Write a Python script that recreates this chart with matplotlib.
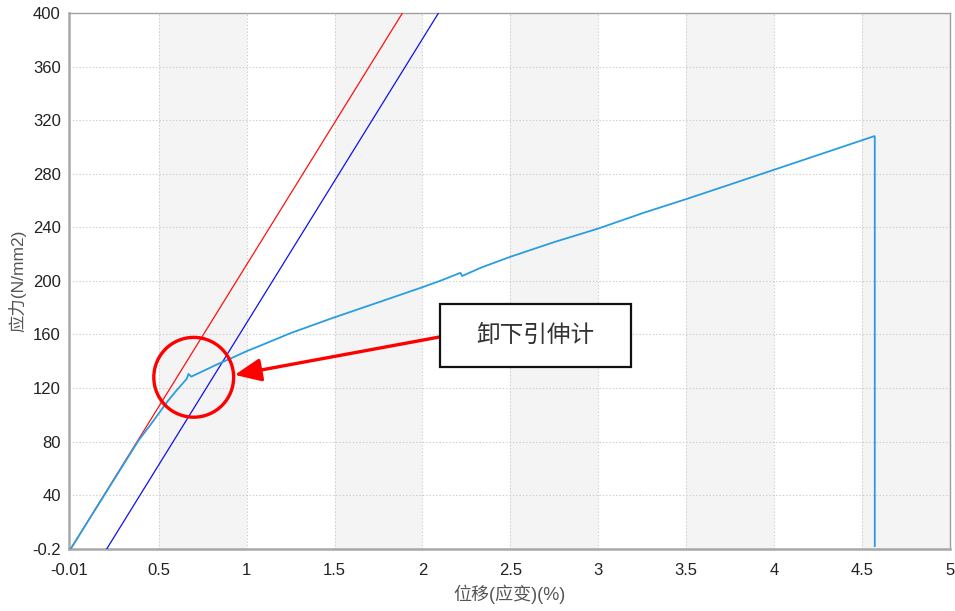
import numpy as np
import matplotlib
matplotlib.use('Agg')
import matplotlib.pyplot as plt
from matplotlib.patches import Ellipse


# Stress-strain test curve (strain %, stress N/mm2)
strain = [0.0, 0.1, 0.2, 0.3, 0.386, 0.45, 0.5, 0.55, 0.6, 0.64, 0.66, 0.669, 0.685,
          0.75, 0.83, 0.915, 1.0, 1.085, 1.25, 1.483, 1.75, 1.994, 2.1, 2.216, 2.225,
          2.335, 2.5, 2.75, 2.998, 3.25, 3.51, 3.75, 4.0, 4.25, 4.568, 4.572, 4.572]
stress = [0.0, 21, 42, 63, 81, 92, 101, 110, 118, 124, 127, 130.5, 128.5,
          132.5, 137.5, 142.4, 147.5, 152, 161, 172, 184, 195, 200, 206, 203.6,
          210, 218, 229, 239, 250.5, 261.5, 272, 283, 294, 308, 308, 2]

# Elastic line and 0.2% offset line
elastic_x = [0.0, 1.886]
elastic_y = [0.0, 400]
offset_x = [0.205, 2.091]
offset_y = [0.0, 400]

x_ticks = [-0.01, 0.5, 1, 1.5, 2, 2.5, 3, 3.5, 4, 4.5, 5]
x_labels = ['-0.01', '0.5', '1', '1.5', '2', '2.5', '3', '3.5', '4', '4.5', '5']
y_ticks = [-0.2, 40, 80, 120, 160, 200, 240, 280, 320, 360, 400]
y_labels = ['-0.2', '40', '80', '120', '160', '200', '240', '280', '320', '360', '400']
shade_bands = [(0.5, 1), (1.5, 2), (2.5, 3), (3.5, 4), (4.5, 5)]

note_text = '卸下引伸计'

fonts = ['Liberation Sans', 'Noto Sans CJK SC', 'DejaVu Sans']
plt.rcParams['font.family'] = fonts

fig = plt.figure(figsize=(9.55, 6.11), dpi=100)
ax = fig.add_axes([0.0723, 0.1015, 0.9225, 0.8772])

for lo, hi in shade_bands:
    ax.axvspan(lo, hi, color='#f4f4f4', zorder=0, lw=0)

ax.plot(elastic_x, elastic_y, color='#ff1010', lw=0.9, zorder=3)
ax.plot(offset_x, offset_y, color='#1010ee', lw=0.9, zorder=3)
ax.plot(strain, stress, color='#2a9de0', lw=1.3, zorder=4)

ax.set_xlim(-0.01, 5)
ax.set_ylim(-0.2, 400)
ax.set_xticks(x_ticks)
ax.set_xticklabels(x_labels)
ax.set_yticks(y_ticks)
ax.set_yticklabels(y_labels)
ax.tick_params(length=0, labelsize=12, labelcolor='#222222')
ax.tick_params(axis='x', pad=10)
ax.tick_params(axis='y', pad=6)
ax.grid(True, color='#cccccc', linestyle=(0, (1.2, 1.8)), lw=0.8)
ax.set_axisbelow(True)

for side in ['left', 'bottom']:
    ax.spines[side].set_color('#a8a8a8')
    ax.spines[side].set_linewidth(1.8)
for side in ['top', 'right']:
    ax.spines[side].set_color('#a0a0a0')
    ax.spines[side].set_linewidth(1.0)

ax.set_xlabel('位移(应变)(%)', fontsize=13, color='#555555', labelpad=5)
ax.set_ylabel('应力(N/mm2)', fontsize=12.5, color='#555555', labelpad=4)

# Annotation: circle, arrow, text box
ax.add_patch(Ellipse((0.699, 128), 0.454, 59.6, fill=False, ec='#ff0000', lw=2.4, zorder=6))
ax.annotate('', xy=(0.932, 129.8), xytext=(2.097, 158.1),
            arrowprops=dict(arrowstyle='-|>,head_length=1.6,head_width=0.7',
                            color='#ff0000', lw=2.4, shrinkA=0, shrinkB=0),
            zorder=6)
ax.text(2.642, 159.2, note_text, fontsize=17, ha='center', va='center', color='#333333',
        family=['Noto Sans CJK SC', 'DejaVu Sans'], zorder=7)
ax.add_patch(plt.Rectangle((2.097, 135.7), 1.091, 47.0, fc='white', ec='#111111',
                           lw=1.6, zorder=6))

fig.savefig('out.png', dpi=100)
